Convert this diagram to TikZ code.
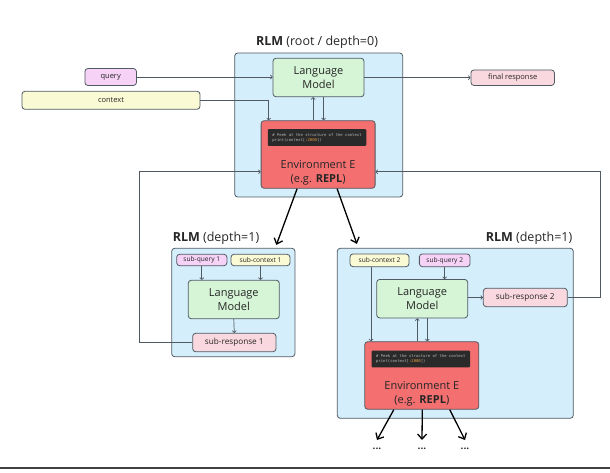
\documentclass[tikz,border=0pt]{standalone}
\usepackage{fontspec}
\setmainfont{Open Sans}
\setmonofont{DejaVu Sans Mono}
\usetikzlibrary{arrows.meta}
\definecolor{rlmblue}{HTML}{D5EEFB}
\definecolor{edgegray}{HTML}{4F5A63}
\definecolor{lmgreen}{HTML}{D6F5D6}
\definecolor{qpink}{HTML}{F6D2F7}
\definecolor{ctxyellow}{HTML}{FAFAD4}
\definecolor{respink}{HTML}{FAD8E0}
\definecolor{envred}{HTML}{F46F6F}
\definecolor{codebg}{HTML}{2A2A2A}
\definecolor{codegray}{HTML}{B8B8B8}
\definecolor{codeorange}{HTML}{E8A040}
\newcommand{\codeline}{{\color{codegray}\# Peek at the structure of the context}\\%
  {\color{codegray}print(context[}{\color{codeorange}:2000}{\color{codegray}])}}
\begin{document}
\begin{tikzpicture}[x=1pt, y=-1pt,
    every node/.style={inner sep=0pt, text=black!85, font=\fontsize{7.5}{9}\selectfont},
    box/.style={draw=edgegray, line width=0.8pt, rounded corners=3pt},
    rlm/.style={box, fill=rlmblue},
    lm/.style={box, fill=lmgreen, align=center, minimum width=91pt, minimum height=38.5pt, font=\fontsize{11}{13.5}\selectfont},
    env/.style={box, fill=envred, minimum width=114pt, minimum height=67.6pt},
    code/.style={fill=codebg, rounded corners=1pt, align=left, minimum width=98.5pt, minimum height=16.8pt, font=\ttfamily\fontsize{3.9}{5}\selectfont},
    envtxt/.style={align=center, font=\fontsize{11}{14}\selectfont},
    query/.style={box, fill=qpink},
    ctx/.style={box, fill=ctxyellow},
    resp/.style={box, fill=respink},
    title/.style={font=\fontsize{12.5}{15}\selectfont},
    conn/.style={draw=edgegray, line width=0.7pt, -{To[length=2.5pt,width=4.5pt]}},
    call/.style={black, line width=1.3pt, -{Straight Barb[length=5pt,width=9pt]}}]
  \useasboundingbox (0,0) rectangle (610,473);

  % root RLM
  \node[rlm, minimum width=168pt, minimum height=144pt] (root) at (318.7,125) {};
  \node[title] (roottitle) at (317,42) {\textbf{RLM} (root / depth=0)};
  \node[lm] (lm0) at (318.5,77.5) {Language\\Model};
  \node[env] (env0) at (318.1,154.5) {};
  \node[code] (code0) at (317,137.5) {\codeline};
  \node[envtxt] (envtxt0) at (318.1,173) {Environment E\\(e.g. \textbf{REPL})};
  \node[query, minimum width=51.5pt, minimum height=17pt] (query) at (110.7,77) {query};
  \node[ctx, minimum width=178pt, minimum height=18pt] (context) at (111,100.3) {context};
  \node[resp, minimum width=83.5pt, minimum height=15.5pt] (final) at (512.7,77.7) {final response};

  \draw[conn] (query.east) -- (query.east -| lm0.west);
  \draw[conn] (lm0.east |- final.west) -- (final.west);
  \draw[conn] (context.east) -| ([xshift=8pt]env0.north west);
  \draw[conn] ([xshift=-5pt]env0.north) -- ([xshift=-5pt]env0.north |- lm0.south);
  \draw[conn] ([xshift=5.5pt]env0.north |- lm0.south) -- ([xshift=5.5pt]env0.north);

  % depth=1, left
  \node[rlm, minimum width=123.3pt, minimum height=108.4pt] (sub1) at (233.3,302.5) {};
  \node[title] (sub1title) at (216,238) {\textbf{RLM} (depth=1)};
  \node[query, minimum width=50.3pt, minimum height=11.4pt, font=\fontsize{6.6}{8}\selectfont] (sq1) at (201.8,260) {sub-query 1};
  \node[ctx, minimum width=59pt, minimum height=11.4pt, font=\fontsize{6.6}{8}\selectfont] (sc1) at (260.5,260) {sub-context 1};
  \node[lm] (lm1) at (233.8,299.5) {Language\\Model};
  \node[resp, minimum width=83.3pt, minimum height=18.4pt, font=\fontsize{8.2}{10}\selectfont] (sr1) at (234.3,342.5) {sub-response 1};

  \draw[conn] (sq1.south) -- (sq1.south |- lm1.north);
  \draw[conn] (sc1.south) -- (sc1.south |- lm1.north);
  \draw[conn] (lm1.south) -- (sr1.north);

  % depth=1, right
  \node[rlm, minimum width=236pt, minimum height=170pt] (sub2) at (455.3,333.3) {};
  \node[title] (sub2title) at (529,238) {\textbf{RLM} (depth=1)};
  \node[ctx, minimum width=59pt, minimum height=12.7pt, font=\fontsize{6.6}{8}\selectfont] (sc2) at (379.5,260.3) {sub-context 2};
  \node[query, minimum width=50.7pt, minimum height=12.7pt, font=\fontsize{6.6}{8}\selectfont] (sq2) at (444.7,260.3) {sub-query 2};
  \node[lm] (lm2) at (422.2,298.7) {Language\\Model};
  \node[resp, minimum width=84pt, minimum height=18.4pt, font=\fontsize{8.2}{10}\selectfont] (sr2) at (525.3,297.5) {sub-response 2};
  \node[env] (env2) at (421.8,375.5) {};
  \node[code] (code2) at (420.8,359) {\codeline};
  \node[envtxt] (envtxt2) at (421.8,394) {Environment E\\(e.g. \textbf{REPL})};

  \draw[conn] (sq2.south) -- (sq2.south |- lm2.north);
  \draw[conn] ([xshift=-8.5pt]sc2.south) -- ([xshift=-8.5pt]sc2.south |- env2.north);
  \draw[conn] (lm2.east |- sr2.west) -- (sr2.west);
  \draw[conn] ([xshift=-4.5pt]env2.north) -- ([xshift=-4.5pt]env2.north |- lm2.south);
  \draw[conn] ([xshift=5.5pt]env2.north |- lm2.south) -- ([xshift=5.5pt]env2.north);

  % sub-responses back into the root environment
  \coordinate (fbl) at (139.6,171.7);
  \coordinate (fbr) at (600,171.7);
  \draw[conn] (sr1.west) -| (fbl) -- (fbl -| env0.west);
  \draw[conn] (sr2.east) -| (fbr) -- (fbr -| env0.east);

  % recursive calls
  \draw[call] ([xshift=-21pt]env0.south) -- ([xshift=-19pt,yshift=3pt]sub1.north east);
  \draw[call] ([xshift=19pt]env0.south) -- ([xshift=20pt,yshift=4pt]sub2.north west);
  \foreach \k/\xs/\xd in {1/-28/377, 2/0.5/422, 3/28/465} {
    \node[font=\fontsize{10}{12}\selectfont\bfseries] (dots\k) at (\xd,449) {...};
    \draw[call] ([xshift=\xs pt]env2.south) -- (\xd,440);
  }

  \draw[black!75, line width=2pt] (0,468) -- (610,468);
\end{tikzpicture}
\end{document}
